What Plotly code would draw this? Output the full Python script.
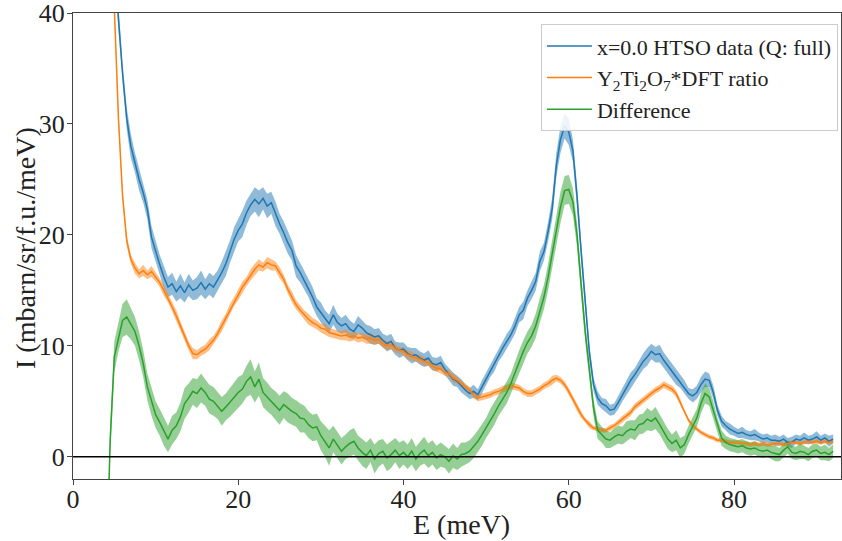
import numpy as np
import plotly.graph_objects as go

# Energy bins (meV), 0.5 meV spacing from 4 to 92
energy = np.arange(4.0, 92.01, 0.5)

htso = [
    60, 52, 45, 39.5, 34.5, 30.5, 28.0, 26.5, 25.0, 23.8,
    22.3, 19.8, 18.5, 17.3, 16.2, 15.3, 15.6, 14.9, 15.4, 14.8,
    15.5, 15.0, 15.2, 15.7, 15.1, 15.6, 15.3, 15.9, 16.6, 17.4,
    18.5, 19.6, 20.4, 21.0, 22.0, 22.7, 23.2, 22.8, 23.3, 22.6,
    22.9, 21.9, 21.0, 20.2, 19.3, 18.6, 17.2, 16.6, 15.9, 15.2,
    14.4, 13.5, 13.0, 12.4, 12.0, 12.8, 12.1, 11.8, 12.0, 11.5,
    11.3, 11.9, 11.6, 11.2, 11.0, 10.8, 10.9, 10.5, 10.2, 10.4,
    9.8, 9.6, 9.7, 9.3, 9.1, 9.2, 8.9, 8.7, 8.9, 8.4,
    8.3, 8.5, 7.9, 7.4, 7.0, 6.8, 6.4, 6.0, 5.7, 5.9,
    5.6, 6.3, 7.0, 7.8, 8.4, 9.2, 9.8, 10.4, 11.0, 11.8,
    12.8, 13.2, 14.3, 15.0, 15.8, 17.6, 18.5, 20.3, 22.4, 26.3,
    28.6, 29.8, 29.3, 27.6, 23.5, 18.5, 13.8, 9.4, 6.5, 5.3,
    4.8, 4.6, 4.2, 4.3, 4.9, 5.6, 6.2, 6.9, 7.4, 8.0,
    8.6, 9.0, 9.5, 9.2, 9.3, 8.7, 8.2, 7.7, 7.2, 6.8,
    6.3, 5.7, 5.5, 5.8, 6.5, 7.0, 6.9, 5.8, 4.2, 3.2,
    2.8, 2.5, 2.3, 2.1, 2.2, 2.0, 1.9, 2.0, 1.8, 1.6,
    1.7, 1.5, 1.5, 1.4, 1.6, 1.3, 1.3, 1.6, 1.5, 1.7,
    1.5, 1.6, 1.8, 1.5, 1.7, 1.4, 1.6,
]
htso_err = [
    1.3, 1.2, 1.2, 1.1, 1.0, 1.0, 1.1, 0.9, 1.0, 0.9,
    0.9, 1.0, 0.9, 0.9, 1.0, 0.9, 1.0, 0.9, 1.1, 0.9,
    1.0, 0.9, 1.0, 1.1, 0.9, 1.0, 1.0, 0.9, 1.0, 1.1,
    1.0, 1.1, 1.0, 1.2, 1.1, 1.0, 1.1, 1.2, 1.0, 1.1,
    1.0, 1.1, 0.9, 1.0, 1.0, 0.9, 1.0, 0.9, 0.9, 0.8,
    0.9, 0.8, 0.9, 0.8, 0.8, 0.9, 0.8, 0.7, 0.8, 0.8,
    0.7, 0.8, 0.7, 0.7, 0.8, 0.7, 0.7, 0.6, 0.7, 0.7,
    0.6, 0.7, 0.6, 0.6, 0.7, 0.6, 0.6, 0.6, 0.7, 0.6,
    0.6, 0.6, 0.5, 0.6, 0.6, 0.5, 0.6, 0.5, 0.5, 0.6,
    0.5, 0.6, 0.6, 0.6, 0.7, 0.6, 0.7, 0.7, 0.6, 0.7,
    0.7, 0.8, 0.7, 0.8, 0.8, 0.9, 0.8, 0.9, 1.0, 1.1,
    1.2, 1.1, 1.2, 1.0, 1.0, 0.9, 0.8, 0.7, 0.6, 0.6,
    0.5, 0.6, 0.5, 0.5, 0.6, 0.6, 0.6, 0.7, 0.6, 0.7,
    0.7, 0.8, 0.7, 0.7, 0.8, 0.7, 0.7, 0.6, 0.7, 0.6,
    0.6, 0.5, 0.6, 0.6, 0.7, 0.7, 0.6, 0.6, 0.5, 0.5,
    0.4, 0.5, 0.4, 0.4, 0.5, 0.4, 0.4, 0.5, 0.4, 0.4,
    0.4, 0.4, 0.5, 0.4, 0.4, 0.4, 0.5, 0.4, 0.4, 0.5,
    0.4, 0.4, 0.5, 0.4, 0.4, 0.5, 0.4,
]

yto_dft = [
    55, 47, 40.5, 30.5, 23.5, 19.5, 17.8, 17.0, 16.5, 16.8,
    16.4, 16.7, 16.2, 15.7, 15.0, 14.3, 13.5, 12.7, 11.8, 10.9,
    10.0, 9.3, 9.2, 9.5, 9.7, 10.1, 10.5, 11.1, 11.8, 12.5,
    13.3, 14.0, 14.6, 15.3, 15.8, 16.4, 16.9, 17.3, 17.1, 17.5,
    17.3, 17.2, 16.6, 16.0, 15.1, 14.4, 13.7, 13.2, 12.8, 12.4,
    12.1, 11.9, 11.6, 11.5, 11.2, 11.1, 11.0, 10.9, 11.0, 10.8,
    10.9, 10.7, 10.8, 10.6, 10.7, 10.5, 10.6, 10.2, 10.0, 10.1,
    9.8, 9.6, 9.5, 9.2, 9.1, 8.9, 8.8, 8.6, 8.5, 8.2,
    8.0, 7.9, 7.6, 7.5, 7.1, 6.9, 6.6, 6.3, 6.0, 5.6,
    5.3, 5.4, 5.5, 5.6, 5.8, 5.9, 6.1, 6.2, 6.4, 6.3,
    6.2, 5.9, 5.7, 5.7, 5.9, 6.1, 6.4, 6.6, 6.9, 7.1,
    6.9, 6.5, 5.9, 5.2, 4.4, 3.8, 3.3, 2.9, 2.6, 2.5,
    2.4, 2.4, 2.6, 2.8, 3.1, 3.4, 3.7, 4.0, 4.5, 4.8,
    5.1, 5.4, 5.7, 6.0, 6.2, 6.5, 6.3, 6.1, 5.7, 4.9,
    4.0, 3.3, 2.8, 2.5, 2.2, 2.0, 1.8, 1.7, 1.5, 1.5,
    1.4, 1.3, 1.3, 1.3, 1.2, 1.2, 1.1, 1.2, 1.1, 1.2,
    1.1, 1.1, 1.2, 1.2, 1.1, 1.2, 1.3, 1.3, 1.2, 1.3,
    1.4, 1.3, 1.4, 1.3, 1.4, 1.3, 1.4,
]
yto_err = [
    0.6, 0.6, 0.5, 0.5, 0.5, 0.5, 0.4, 0.5, 0.4, 0.5,
    0.4, 0.5, 0.4, 0.4, 0.5, 0.4, 0.4, 0.5, 0.4, 0.4,
    0.4, 0.5, 0.4, 0.4, 0.4, 0.5, 0.4, 0.4, 0.5, 0.4,
    0.5, 0.4, 0.5, 0.5, 0.4, 0.5, 0.5, 0.5, 0.4, 0.5,
    0.5, 0.4, 0.5, 0.4, 0.4, 0.5, 0.4, 0.4, 0.4, 0.5,
    0.4, 0.4, 0.4, 0.5, 0.4, 0.4, 0.4, 0.4, 0.5, 0.4,
    0.4, 0.4, 0.4, 0.4, 0.5, 0.4, 0.4, 0.4, 0.4, 0.4,
    0.4, 0.3, 0.4, 0.4, 0.4, 0.3, 0.4, 0.4, 0.3, 0.4,
    0.3, 0.4, 0.3, 0.3, 0.4, 0.3, 0.3, 0.3, 0.3, 0.3,
    0.3, 0.3, 0.3, 0.3, 0.3, 0.3, 0.3, 0.3, 0.3, 0.3,
    0.3, 0.3, 0.3, 0.3, 0.3, 0.3, 0.3, 0.3, 0.4, 0.3,
    0.3, 0.3, 0.3, 0.3, 0.3, 0.3, 0.2, 0.3, 0.2, 0.2,
    0.2, 0.2, 0.3, 0.2, 0.3, 0.3, 0.3, 0.3, 0.3, 0.3,
    0.3, 0.3, 0.3, 0.3, 0.3, 0.3, 0.3, 0.3, 0.3, 0.3,
    0.2, 0.2, 0.2, 0.2, 0.2, 0.2, 0.2, 0.2, 0.2, 0.2,
    0.2, 0.2, 0.2, 0.2, 0.2, 0.2, 0.2, 0.2, 0.2, 0.2,
    0.2, 0.2, 0.2, 0.2, 0.2, 0.2, 0.2, 0.2, 0.2, 0.2,
    0.2, 0.2, 0.2, 0.2, 0.2, 0.2, 0.2,
]

difference = [
    -12, 1.5, 9.0, 10.8, 12.3, 12.6, 12.0, 11.3, 10.0, 8.4,
    6.3, 5.0, 3.8, 3.1, 2.3, 1.6, 2.4, 2.8, 3.6, 4.8,
    5.3, 5.9, 5.7, 6.2, 5.8, 5.2, 5.0, 4.6, 4.1, 4.5,
    4.9, 5.3, 5.8, 6.1, 6.8, 7.2, 6.3, 7.0, 5.8, 5.4,
    5.0, 4.6, 4.2, 4.7, 4.4, 4.1, 3.9, 3.5, 3.4, 2.9,
    2.6, 2.7, 1.9, 1.4, 0.8, 1.6, 1.0, 0.5, 0.9, 1.2,
    1.4, 0.8, 0.4, 0.1, 0.6, -0.2, 0.3, 0.5, -0.1, 0.2,
    0.6, 0.1, 0.4, 0.0, 0.5, -0.2, 0.3, 0.6, 0.1, 0.4,
    -0.1, 0.2, 0.0, -0.4, 0.1, -0.2, 0.2, 0.3, 0.5, 0.9,
    1.4, 2.0, 2.6, 3.3, 3.9, 4.6, 5.2, 5.8, 6.6, 7.6,
    8.6, 9.5, 10.3, 10.9, 11.8, 13.2, 14.4, 16.2, 18.3, 20.4,
    22.5, 24.0, 24.1, 23.0, 20.0, 15.5, 11.2, 7.8, 4.4, 2.4,
    2.0, 1.6, 1.5, 1.8, 2.0, 1.9, 2.3, 2.5, 2.4, 2.9,
    3.0, 3.4, 3.2, 3.5, 2.9, 2.3, 1.6, 1.2, 1.5, 0.8,
    1.1, 2.0, 2.7, 3.5, 4.8, 5.7, 5.4, 4.2, 2.8, 1.7,
    1.3, 1.1, 1.0, 0.9, 1.0, 0.8, 0.7, 0.8, 0.6, 0.5,
    0.6, 0.4, 0.3, 0.2, 0.6, 0.9, 0.4, 0.3, 0.5, 0.4,
    0.2, 0.5, 0.6, 0.3, 0.4, 0.2, 0.5,
]
difference_err = [
    1.5, 1.4, 1.4, 1.3, 1.5, 1.6, 1.4, 1.3, 1.3, 1.2,
    1.2, 1.3, 1.2, 1.2, 1.3, 1.2, 1.3, 1.2, 1.3, 1.4,
    1.3, 1.2, 1.3, 1.3, 1.2, 1.3, 1.3, 1.2, 1.3, 1.2,
    1.3, 1.3, 1.4, 1.3, 1.4, 1.6, 1.4, 1.5, 1.3, 1.3,
    1.2, 1.3, 1.3, 1.2, 1.3, 1.2, 1.2, 1.3, 1.2, 1.2,
    1.2, 1.2, 1.3, 1.4, 1.6, 1.2, 1.2, 1.2, 1.1, 1.2,
    1.2, 1.1, 1.2, 1.2, 1.1, 1.3, 1.2, 1.1, 1.2, 1.2,
    1.1, 1.2, 1.1, 1.1, 1.2, 1.1, 1.1, 1.2, 1.1, 1.1,
    1.1, 1.1, 1.0, 1.1, 1.1, 1.0, 1.1, 1.0, 1.0, 1.0,
    1.0, 1.0, 0.9, 1.0, 1.0, 0.9, 1.0, 1.0, 0.9, 1.0,
    1.0, 1.0, 1.0, 1.0, 1.1, 1.1, 1.1, 1.2, 1.2, 1.3,
    1.4, 1.3, 1.3, 1.2, 1.1, 1.0, 0.9, 0.8, 0.8, 0.8,
    0.7, 0.8, 0.7, 0.8, 0.8, 0.8, 0.9, 0.8, 0.9, 0.9,
    0.9, 1.0, 0.9, 1.0, 0.9, 0.9, 0.9, 0.8, 0.9, 0.9,
    0.8, 0.8, 0.8, 0.8, 0.9, 0.9, 0.8, 0.8, 0.7, 0.7,
    0.6, 0.6, 0.6, 0.6, 0.6, 0.6, 0.6, 0.6, 0.6, 0.6,
    0.6, 0.6, 0.7, 0.6, 0.6, 0.6, 0.6, 0.6, 0.7, 0.6,
    0.6, 0.6, 0.6, 0.6, 0.7, 0.6, 0.6,
]

x_ticks = [0, 20, 40, 60, 80]
y_ticks = [0, 10, 20, 30, 40]
x_title = "E (meV)"
y_title = "I (mbarn/sr/f.u./meV)"

series = [
    ("x=0.0 HTSO data (Q: full)", htso, htso_err, "#1f77b4", "rgba(31,119,180,0.5)"),
    ("Y<sub>2</sub>Ti<sub>2</sub>O<sub>7</sub>*DFT ratio", yto_dft, yto_err, "#ff7f0e", "rgba(255,127,14,0.5)"),
    ("Difference", difference, difference_err, "#2ca02c", "rgba(44,160,44,0.5)"),
]

fig = go.Figure()
for name, vals, err, col, fcol in series:
    v = np.array(vals, dtype=float)
    e = np.array(err, dtype=float)
    fig.add_trace(go.Scatter(x=energy, y=v + e, mode="lines", line=dict(width=0),
                             showlegend=False, hoverinfo="skip"))
    fig.add_trace(go.Scatter(x=energy, y=v - e, mode="lines", line=dict(width=0),
                             fill="tonexty", fillcolor=fcol, showlegend=False, hoverinfo="skip"))
for name, vals, err, col, fcol in series:
    fig.add_trace(go.Scatter(x=energy, y=vals, mode="lines", name=name,
                             line=dict(color=col, width=1.5)))

fig.add_hline(y=0, line=dict(color="black", width=1.5), layer="above")

font_family = "Liberation Serif, DejaVu Serif, serif"
axis_common = dict(showline=True, linecolor="#444", linewidth=1, mirror=True,
                   ticks="outside", ticklen=5, tickcolor="#444", showgrid=False,
                   zeroline=False, automargin=False, ticklabeloverflow="allow",
                   tickfont=dict(size=26, color="#222", family=font_family))

plot_l, plot_r, plot_t, plot_b = 73, 841, 13, 479
W, H = 842, 541
fig.update_layout(
    width=W, height=H,
    margin=dict(l=plot_l, r=W - plot_r, t=plot_t, b=H - plot_b),
    plot_bgcolor="white", paper_bgcolor="white",
    font=dict(family=font_family, color="#222"),
    xaxis=dict(range=[0, 92.95], tickvals=x_ticks, ticklabelstandoff=-8, **axis_common),
    yaxis=dict(range=[-2, 40], tickvals=y_ticks, ticklabelstandoff=-3, **axis_common),
    legend=dict(x=0.996, xanchor="right", y=0.976, yanchor="top",
                traceorder="normal",
                bgcolor="rgba(255,255,255,0.85)", bordercolor="#cccccc", borderwidth=1,
                font=dict(size=22, family=font_family, color="#222"), itemwidth=45),
    showlegend=True,
)

pw = plot_r - plot_l
ph = plot_b - plot_t
fig.add_annotation(text=x_title, xref="paper", yref="paper",
                   x=(461 - plot_l) / pw, y=-(524 - plot_b) / ph,
                   xanchor="center", yanchor="middle", showarrow=False,
                   font=dict(size=28, family=font_family, color="#222"))
fig.add_annotation(text=y_title, xref="paper", yref="paper",
                   x=-(plot_l - 25) / pw, y=(plot_b - 248) / ph, textangle=-90,
                   xanchor="center", yanchor="middle", showarrow=False,
                   font=dict(size=28, family=font_family, color="#222"))

fig.write_html("out.html", config={"displayModeBar": False},
               post_script="document.body.style.margin='0';document.body.style.overflow='hidden';")
